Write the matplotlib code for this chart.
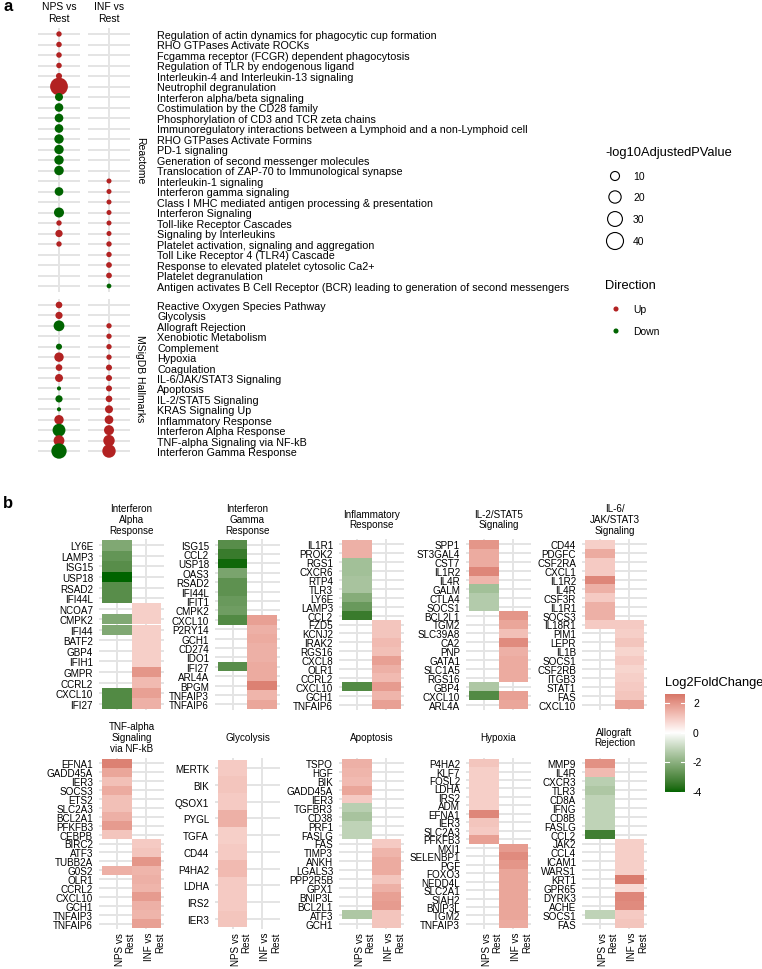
import numpy as np
import matplotlib
matplotlib.use('Agg')
import matplotlib.pyplot as plt

plt.rcParams['font.family'] = ['Liberation Sans', 'DejaVu Sans']

nan = np.nan

# ---------------- Panel a data ----------------
reactome_terms = [
    "Regulation of actin dynamics for phagocytic cup formation",
    "RHO GTPases Activate ROCKs",
    "Fcgamma receptor (FCGR) dependent phagocytosis",
    "Regulation of TLR by endogenous ligand",
    "Interleukin-4 and Interleukin-13 signaling",
    "Neutrophil degranulation",
    "Interferon alpha/beta signaling",
    "Costimulation by the CD28 family",
    "Phosphorylation of CD3 and TCR zeta chains",
    "Immunoregulatory interactions between a Lymphoid and a non-Lymphoid cell",
    "RHO GTPases Activate Formins",
    "PD-1 signaling",
    "Generation of second messenger molecules",
    "Translocation of ZAP-70 to Immunological synapse",
    "Interleukin-1 signaling",
    "Interferon gamma signaling",
    "Class I MHC mediated antigen processing & presentation",
    "Interferon Signaling",
    "Toll-like Receptor Cascades",
    "Signaling by Interleukins",
    "Platelet activation, signaling and aggregation",
    "Toll Like Receptor 4 (TLR4) Cascade",
    "Response to elevated platelet cytosolic Ca2+",
    "Platelet degranulation",
    "Antigen activates B Cell Receptor (BCR) leading to generation of second messengers",
]
reactome_nps_logp = [3, 3.2, 3.2, 3.2, 4, 44, 7.7, 9, 9.2, 9.2, 11, 11, 11, 11.3,
                     nan, 9.2, nan, 12.7, 3, 6.2, 3, nan, nan, nan, nan]
reactome_nps_dir = ["Up"] * 6 + ["Down"] * 8 + [None, "Down", None, "Down",
                    "Up", "Up", "Up", None, None, None, None]
reactome_inf_logp = [nan] * 14 + [2.5, 2.5, 2.5, 2.5, 2.5, 2.5, 3, 3, 3.5, 3.5, 2.2]
reactome_inf_dir = [None] * 14 + ["Up"] * 10 + ["Down"]

hallmark_terms = [
    "Reactive Oxygen Species Pathway", "Glycolysis", "Allograft Rejection",
    "Xenobiotic Metabolism", "Complement", "Hypoxia", "Coagulation",
    "IL-6/JAK/STAT3 Signaling", "Apoptosis", "IL-2/STAT5 Signaling",
    "KRAS Signaling Up", "Inflammatory Response", "Interferon Alpha Response",
    "TNF-alpha Signaling via NF-kB", "Interferon Gamma Response",
]
hallmark_nps_logp = [5, 6, 15, nan, 4, 11, 5, 7.6, 1.5, 6, 1.5, 11, 22, 15, 32]
hallmark_nps_dir = ["Up", "Up", "Down", None, "Down", "Up", "Up", "Up", "Down",
                    "Down", "Down", "Up", "Down", "Up", "Down"]
hallmark_inf_logp = [nan, nan, 2.9, 2.9, 2.9, 2.9, 3.9, 3.9, 3.9, 4.9, 7.6, 9.2, 12.6, 17, 24]
hallmark_inf_dir = [None, None] + ["Up"] * 13

comparisons = ["NPS vs\nRest", "INF vs\nRest"]
size_breaks = [10, 20, 30, 40]
directions = ["Up", "Down"]

# ---------------- Panel b data ----------------
ifna_title = "Interferon\nAlpha\nResponse"
ifna_genes = ["LY6E", "LAMP3", "ISG15", "USP18", "RSAD2", "IFI44L", "NCOA7", "CMPK2",
              "IFI44", "BATF2", "GBP4", "IFIH1", "GMPR", "CCRL2", "CXCL10", "IFI27"]
ifna_nps = [-2.2, -2.7, -2.9, -4.0, -2.9, -2.9, nan, -2.2, -2.2, nan, nan, nan, nan, nan, -3.0, -3.0]
ifna_inf = [nan] * 6 + [0.9, 0.9, 0.9, 0.9, 0.9, 0.9, 2.0, 1.3, 1.8, 1.5]

ifng_title = "Interferon\nGamma\nResponse"
ifng_genes = ["ISG15", "CCL2", "USP18", "OAS3", "RSAD2", "IFI44L", "IFIT1", "CMPK2", "CXCL10",
              "P2RY14", "GCH1", "CD274", "IDO1", "IFI27", "ARL4A", "BPGM", "TNFAIP3", "TNFAIP6"]
ifng_nps = [-2.9, -3.4, -3.9, -2.3, -2.8, -2.8, -2.6, -2.5, -3.0, nan, nan, nan, nan, -2.9,
            nan, nan, nan, nan]
ifng_inf = [nan] * 8 + [1.8, 1.5, 1.6, 1.5, 1.5, 1.6, 1.6, 2.4, 1.4, 1.7]

infl_title = "Inflammatory\nResponse"
infl_genes = ["IL1R1", "PROK2", "RGS1", "CXCR6", "RTP4", "TLR3", "LY6E", "LAMP3", "CCL2",
              "FZD5", "KCNJ2", "IRAK2", "RGS16", "CXCL8", "OLR1", "CCRL2", "CXCL10", "GCH1", "TNFAIP6"]
infl_nps = [1.5, 1.5, -1.6, -1.6, -1.5, -1.5, -2.1, -2.6, -3.4, nan, nan, nan, nan, nan, nan,
            nan, -3.0, nan, nan]
infl_inf = [nan] * 9 + [1.1, 1.1, 1.3, 1.2, 1.8, 1.5, 1.3, 1.9, 1.4, 1.8]

il2_title = "IL-2/STAT5\nSignaling"
il2_genes = ["SPP1", "ST3GAL4", "CST7", "IL1R2", "IL4R", "GALM", "CTLA4", "SOCS1", "BCL2L1",
             "TGM2", "SLC39A8", "CA2", "PNP", "GATA1", "SLC1A5", "RGS16", "GBP4", "CXCL10", "ARL4A"]
il2_nps = [2.0, 1.6, 1.6, 2.3, 1.4, -1.6, -1.3, -1.3, nan, nan, nan, nan, nan, nan, nan, nan,
           -1.4, -3.0, nan]
il2_inf = [nan] * 8 + [2.0, 1.7, 1.2, 2.2, 1.5, 1.6, 1.6, 1.6, nan, 1.8, 1.7]

il6_title = "IL-6/\nJAK/STAT3\nSignaling"
il6_genes = ["CD44", "PDGFC", "CSF2RA", "CXCL1", "IL1R2", "IL4R", "CSF3R", "IL1R1", "SOCS3",
             "IL18R1", "PIM1", "LEPR", "IL1B", "SOCS1", "CSF2RB", "ITGB3", "STAT1", "FAS", "CXCL10"]
il6_nps = [0.9, 1.6, 1.0, 1.0, 2.3, 1.5, 1.0, 1.5, 1.5, 1.0] + [nan] * 9
il6_inf = [nan] * 9 + [1.0, 0.9, 1.1, 0.8, 1.0, 0.8, 0.9, 1.0, 1.1, 1.8]

tnf_title = "TNF-alpha\nSignaling\nvia NF-kB"
tnf_genes = ["EFNA1", "GADD45A", "IER3", "SOCS3", "ETS2", "SLC2A3", "BCL2A1", "PFKFB3", "CEBPB",
             "BIRC2", "ATF3", "TUBB2A", "G0S2", "OLR1", "CCRL2", "CXCL10", "GCH1", "TNFAIP3", "TNFAIP6"]
tnf_nps = [2.4, 1.7, 1.2, 1.6, 1.2, 1.2, 1.5, 1.9, 1.1, nan, nan, nan, 1.5, nan, nan, nan, nan, nan, nan]
tnf_inf = [nan] * 9 + [1.0, 1.1, 2.0, 1.4, 1.5, 1.4, 1.9, 1.5, 1.4, 1.8]

glyc_title = "Glycolysis"
glyc_genes = ["MERTK", "BIK", "QSOX1", "PYGL", "TGFA", "CD44", "P4HA2", "LDHA", "IRS2", "IER3"]
glyc_nps = [1.0, 1.1, 1.0, 1.5, 0.9, 1.0, 1.3, 1.0, 1.0, 1.1]
glyc_inf = [nan] * 10

apop_title = "Apoptosis"
apop_genes = ["TSPO", "HGF", "BIK", "GADD45A", "IER3", "TGFBR3", "CD38", "PRF1", "FASLG", "FAS",
              "TIMP3", "ANKH", "LGALS3", "PPP2R5B", "GPX1", "BNIP3L", "BCL2L1", "ATF3", "GCH1"]
apop_nps = [1.5, 1.4, 1.3, 1.7, 1.0, -1.2, -1.5, -1.1, -1.1, nan, nan, nan, nan, nan, nan, nan,
            nan, -1.4, nan]
apop_inf = [nan] * 9 + [1.0, 1.4, 1.6, 1.6, 1.1, 1.5, 1.8, 1.9, 1.1, 1.1]

hypo_title = "Hypoxia"
hypo_genes = ["P4HA2", "KLF7", "FOSL2", "LDHA", "IRS2", "ADM", "EFNA1", "IER3", "SLC2A3", "PFKFB3",
              "MXI1", "SELENBP1", "PGF", "FOXO3", "NEDD4L", "SLC2A1", "SIAH2", "BNIP3L", "TGM2", "TNFAIP3"]
hypo_nps = [1.1, 0.9, 0.9, 0.9, 0.9, 0.9, 2.3, 1.1, 1.0, 1.8] + [nan] * 10
hypo_inf = [nan] * 10 + [1.9, 2.2, 2.0, 1.7, 1.7, 1.7, 1.7, 1.7, 1.7, 1.6]

allo_title = "Allograft\nRejection"
allo_genes = ["MMP9", "IL4R", "CXCR3", "TLR3", "CD8A", "IFNG", "CD8B", "FASLG", "CCL2", "JAK2",
              "CCL4", "ICAM1", "WARS1", "KRT1", "GPR65", "DYRK3", "ACHE", "SOCS1", "FAS"]
allo_nps = [2.1, 1.3, -1.2, -1.4, -1.1, -1.1, -1.1, -1.1, -3.3, nan, nan, nan, nan, nan, nan, nan,
            nan, -1.1, nan]
allo_inf = [nan] * 9 + [0.9, 0.9, 0.9, 0.9, 2.5, 0.7, 2.3, 2.2, 1.0, 1.1]

facet_rows = [
    [(ifna_title, ifna_genes, ifna_nps, ifna_inf),
     (ifng_title, ifng_genes, ifng_nps, ifng_inf),
     (infl_title, infl_genes, infl_nps, infl_inf),
     (il2_title, il2_genes, il2_nps, il2_inf),
     (il6_title, il6_genes, il6_nps, il6_inf)],
    [(tnf_title, tnf_genes, tnf_nps, tnf_inf),
     (glyc_title, glyc_genes, glyc_nps, glyc_inf),
     (apop_title, apop_genes, apop_nps, apop_inf),
     (hypo_title, hypo_genes, hypo_nps, hypo_inf),
     (allo_title, allo_genes, allo_nps, allo_inf)],
]
cbar_ticks = [2, 0, -2, -4]
FC_MIN, FC_MAX = -4.0, 2.6

# ---------------- colour helpers (CIELAB ramp like ggplot) ----------------
_M = np.array([[0.4124564, 0.3575761, 0.1804375],
               [0.2126729, 0.7151522, 0.0721750],
               [0.0193339, 0.1191920, 0.9503041]])
_WP = np.array([0.95047, 1.0, 1.08883])


def srgb_to_lab(rgb):
    rgb = np.asarray(rgb, float)
    lin = np.where(rgb <= 0.04045, rgb / 12.92, ((rgb + 0.055) / 1.055) ** 2.4)
    t = (_M @ lin) / _WP
    f = np.where(t > (6 / 29) ** 3, np.cbrt(t), t / (3 * (6 / 29) ** 2) + 4 / 29)
    return np.array([116 * f[1] - 16, 500 * (f[0] - f[1]), 200 * (f[1] - f[2])])


def lab_to_srgb(lab):
    L, a, b = lab
    fy_ = (L + 16) / 116
    fs = np.array([fy_ + a / 500, fy_, fy_ - b / 200])
    xyz = np.where(fs > 6 / 29, fs ** 3, 3 * (6 / 29) ** 2 * (fs - 4 / 29)) * _WP
    lin = np.clip(np.linalg.inv(_M) @ xyz, 0, 1)
    rgb = np.where(lin <= 0.0031308, 12.92 * lin, 1.055 * lin ** (1 / 2.4) - 0.055)
    return np.clip(rgb, 0, 1)


LOW = srgb_to_lab(matplotlib.colors.to_rgb("#006400"))
MID = srgb_to_lab((1, 1, 1))
HIGH = srgb_to_lab(matplotlib.colors.to_rgb("#B22222"))


def fc_color(v):
    t = 0.5 + v / 8.0
    if t < 0.5:
        f = t / 0.5
        lab = LOW + (MID - LOW) * f
    else:
        f = (t - 0.5) / 0.5
        lab = MID + (HIGH - MID) * f
    return lab_to_srgb(lab)


# ---------------- figure ----------------
W, H = 762, 970
fig = plt.figure(figsize=(W / 100, H / 100), dpi=100)


def ax_px(x0, y0, x1, y1):
    return fig.add_axes([x0 / W, 1 - y1 / H, (x1 - x0) / W, (y1 - y0) / H])


GRID = "#E4E4E4"
GLW = 1.4
RED = "#B22222"
GREEN = "#006400"
dir_color = {"Up": RED, "Down": GREEN}


def dot_s(v):
    d = 1 + 2.53 * np.sqrt(v)
    return (d * 0.72) ** 2


# panel a
fig.text(3 / W, 1 - 11 / H, "a", fontsize=12, fontweight="bold", va="baseline")
col_x = [(38, 80), (88, 130)]
row_y = [(28.7, 293.3), (299.7, 458.3)]
blocks = [
    (reactome_terms, [reactome_nps_logp, reactome_inf_logp], [reactome_nps_dir, reactome_inf_dir], "Reactome"),
    (hallmark_terms, [hallmark_nps_logp, hallmark_inf_logp], [hallmark_nps_dir, hallmark_inf_dir], "MSigDB Hallmarks"),
]
for bi, (terms, logps, dirs, strip) in enumerate(blocks):
    n = len(terms)
    y0, y1 = row_y[bi]
    for ci in range(2):
        x0, x1 = col_x[ci]
        ax = ax_px(x0, y0, x1, y1)
        ax.set_xlim(-1, 1)
        ax.set_ylim(n - 0.4, -0.6)
        for i in range(n):
            ax.axhline(i, color=GRID, lw=GLW, zorder=0)
        ax.axvline(0, color=GRID, lw=GLW, zorder=0)
        vals = np.array(logps[ci], float)
        ok = ~np.isnan(vals)
        ys = np.arange(n)[ok]
        ax.scatter(np.zeros(ok.sum()), ys, s=[dot_s(v) for v in vals[ok]],
                   c=[dir_color[d] for d, o in zip(dirs[ci], ok) if o],
                   edgecolors="none", zorder=3, clip_on=False)
        for sp in ax.spines.values():
            sp.set_visible(False)
        ax.set_xticks([])
        if ci == 1:
            ax.yaxis.tick_right()
            ax.set_yticks(range(n))
            ax.set_yticklabels(terms, fontsize=7.75)
            ax.tick_params(axis="y", length=0, pad=19.5)
        else:
            ax.set_yticks([])
    fig.text(140 / W, 1 - (y0 + y1) / 2 / H, strip, rotation=270, ha="center",
             va="center", fontsize=7.5)

for ci, lab in enumerate(comparisons):
    fig.text((col_x[ci][0] + col_x[ci][1]) / 2 / W, 1 - 13 / H, lab, ha="center",
             va="center", fontsize=7.5, linespacing=1.3)

# legends for panel a (overlay axes in pixel coords)
ov = fig.add_axes([0, 0, 1, 1])
ov.set_xlim(0, W)
ov.set_ylim(H, 0)
ov.axis("off")
ov.text(605, 153, "-log10AdjustedPValue", fontsize=9.3, va="center", ha="left")
for k, b in enumerate(size_breaks):
    yy = [177, 198, 220, 242][k]
    ov.scatter([615], [yy], s=dot_s(b), facecolors="none", edgecolors="black", linewidths=0.8)
    ov.text(633, yy, str(b), fontsize=7.5, va="center", ha="left")
ov.text(605, 286, "Direction", fontsize=9.3, va="center", ha="left")
for k, d in enumerate(directions):
    yy = [310, 332][k]
    ov.scatter([616], [yy], s=dot_s(2.6), color=dir_color[d], edgecolors="none")
    ov.text(633, yy, d, fontsize=7.5, va="center", ha="left")

# panel b
fig.text(3 / W, 1 - 508 / H, "b", fontsize=12, fontweight="bold", va="baseline")
tile_left = [102, 218, 342, 469, 585]
TW = 29.5
row_axes_y = [(540, 711), (759, 930)]
strip_y = [520, 738]
for ri, row in enumerate(facet_rows):
    y0, y1 = row_axes_y[ri]
    for fi, (title, genes, nps, inf) in enumerate(row):
        L = tile_left[fi]
        ax = ax_px(L - 0.1 * TW, y0, L + 2.1 * TW, y1)
        n = len(genes)
        ax.set_xlim(-0.6, 1.6)
        ax.set_ylim(n - 0.4, -0.6)
        for i in range(n):
            ax.axhline(i, color=GRID, lw=GLW, zorder=0)
        for xc in (0, 1):
            ax.axvline(xc, color=GRID, lw=GLW, zorder=0)
        for xc, vals in enumerate((nps, inf)):
            vals = np.array(vals, float)
            ok = ~np.isnan(vals)
            ax.barh(np.arange(n)[ok], 1.0, left=xc - 0.5, height=1.0,
                    color=[fc_color(v) for v in vals[ok]], edgecolor="none",
                    linewidth=0, zorder=1)
        for sp in ax.spines.values():
            sp.set_visible(False)
        ax.set_yticks(range(n))
        ax.set_yticklabels(genes, fontsize=7.1)
        ax.tick_params(axis="y", length=0, pad=4.3)
        ax.set_xticks([])
        fig.text((L + TW) / W, 1 - strip_y[ri] / H, title, ha="center", va="center",
                 fontsize=7.1, linespacing=1.1)
        if ri == 1:
            for xc, lab in enumerate(comparisons):
                ax.text(xc - 0.06, -0.016, lab, transform=ax.get_xaxis_transform(),
                        rotation=90, ha="left", va="top", multialignment="right",
                        fontsize=7.1, linespacing=1.05)

# colour bar
cax = ax_px(665, 695, 685, 793)
grad = np.linspace(FC_MAX, FC_MIN, 200)
img = np.array([fc_color(v) for v in grad])[:, None, :]
cax.imshow(img, extent=[0, 1, FC_MIN, FC_MAX], aspect="auto", origin="upper")
cax.set_xlim(0, 1)
cax.set_ylim(FC_MIN, FC_MAX)
for t in cbar_ticks:
    cax.plot([0, 0.2], [t, t], color="white", lw=0.8)
    cax.plot([0.8, 1], [t, t], color="white", lw=0.8)
    cax.text(1.4, t, str(t), fontsize=7.5, va="center", ha="left", clip_on=False)
cax.axis("off")
ov.text(665, 683, "Log2FoldChange", fontsize=9.3, va="center", ha="left")

fig.savefig("out.png", dpi=100, facecolor="white")
